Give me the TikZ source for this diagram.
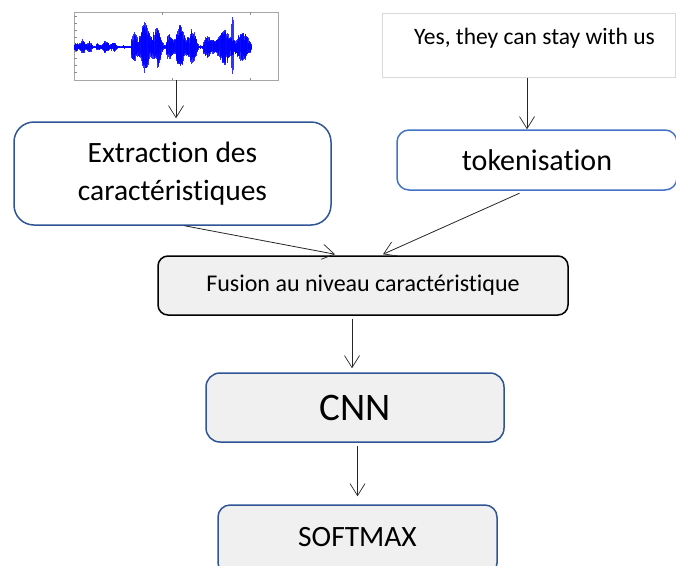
\documentclass[tikz,border=0pt]{standalone}
\usepackage{fontspec}
\setmainfont[Ligatures={NoCommon}]{Carlito}
\usetikzlibrary{arrows.meta}
\definecolor{boxblue}{HTML}{2F5597}
\definecolor{lightblue}{HTML}{4472C4}
\definecolor{boxgray}{HTML}{F0F0F0}
\definecolor{wavecol}{HTML}{0000FF}
\tikzset{
  arr/.style={draw=black!85, line width=0.8pt,
    -{Straight Barb[length=12pt,width=15pt,line width=0.7pt]}},
  bluebox/.style={draw=boxblue, line width=1.5pt, inner sep=0pt, align=center},
  graybox/.style={bluebox, fill=boxgray},
  wavestroke/.style={draw=wavecol, line width=0.6pt, opacity=0.8},
}
\begin{document}
\begin{tikzpicture}[x=1pt,y=-1pt]
\useasboundingbox (0,0) rectangle (676,565);
\clip (0,0) rectangle (676,565);
\fill[white] (0,0) rectangle (676,565);

% audio input: waveform in a plot frame
\node[draw=black!35, line width=0.8pt, minimum width=204, minimum height=68, inner sep=0pt] (wave) at (176,46) {};
\foreach \y in {16,23,...,78} \draw[black!45, line width=0.5pt] (74,\y) -- (76.5,\y);
\foreach \x in {162,250} \draw[black!45, line width=0.5pt] (\x,12) -- (\x,14.5);
\foreach \x in {172,250} \draw[black!45, line width=0.5pt] (\x,80) -- (\x,77.5);
\pgfmathsetseed{11}
\foreach \a/\b/\amp in {74/93/8, 93/96/1.2, 96/118/6.5, 118/131/2, 131/163/27, 163/166/3, 166/198/23, 198/203/2.5, 203/252/19}{
  \pgfmathsetmacro\nxt{\a+0.35}
  \foreach \x in {\a,\nxt,...,\b}{
    \pgfmathsetmacro\t{(\x-\a)/(\b-\a)}
    \pgfmathsetmacro\env{\amp*(0.25+0.75*sqrt(abs(sin(180*\t))))*(0.7+0.3*sin(900*\t+60))}
    \pgfmathsetmacro\up{47-\env*(0.25+0.75*sqrt(rnd))}
    \pgfmathsetmacro\dn{47+\env*(0.25+0.75*sqrt(rnd))}
    \draw[wavestroke] (\x,\up) -- (\x,\dn);
  }
}
\draw[wavestroke] (232,17) -- (232,74);
\draw[wavestroke] (233,20) -- (233,70);
\draw[wavestroke] (231,24) -- (231,68);

% text input
\node[draw=black!15, line width=1pt, minimum width=293, minimum height=64, inner sep=0pt] (txt) at (528.5,45) {};
\node[font=\fontsize{23.5}{28}\selectfont] (txtlabel) at (534.5,38) {Yes, they can stay with us};

% processing stages
\node[bluebox, rounded corners=20pt, minimum width=317, minimum height=103,
      font=\fontsize{29.5}{38}\selectfont] (extr) at (172.5,173.5) {Extraction des\\caractéristiques};
\node[bluebox, draw=lightblue, rounded corners=12pt, minimum width=280, minimum height=60,
      font=\fontsize{30}{34}\selectfont] (tok) at (537,160) {tokenisation};
\node[graybox, draw=black, rounded corners=10pt, minimum width=410, minimum height=59,
      font=\fontsize{24}{28}\selectfont] (fusion) at (363,285.5) {Fusion au niveau caractéristique};
\node[graybox, rounded corners=14pt, minimum width=298, minimum height=69,
      font=\fontsize{39}{46}\selectfont] (cnn) at (355,407.5) {CNN};
\node[graybox, rounded corners=12pt, minimum width=279, minimum height=70] (soft) at (357.5,540) {};
\node[font=\fontsize{29.5}{34}\selectfont] (softlabel) at (357.5,537) {SOFTMAX};

% connectors
\draw[arr, shorten >=3pt] (wave.south) -- (wave.south |- extr.north);
\draw[arr] (txt.south -| 527,0) -- (tok.north -| 527,0);
\draw[arr] ([xshift=12pt]extr.south) -- ([xshift=-28pt,yshift=1pt]fusion.north);
\draw[arr, shorten <=6pt] ([xshift=-12pt]tok.south) -- ([xshift=20pt,yshift=1pt]fusion.north);
\draw[arr, shorten <=3pt, shorten >=4pt] (fusion.south -| 352,0) -- (cnn.north -| 352,0);
\draw[arr, shorten <=3pt, shorten >=8pt] (cnn.south -| soft.north) -- (soft.north);
\end{tikzpicture}
\end{document}
